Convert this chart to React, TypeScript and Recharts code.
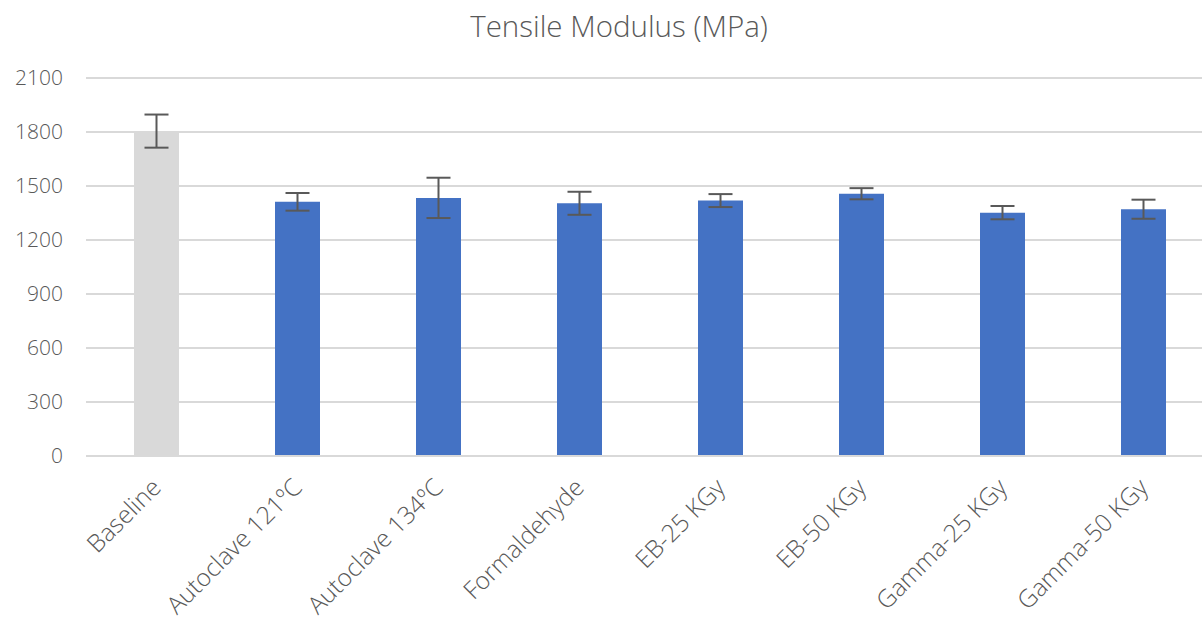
import React from "react";
import { BarChart, Bar, XAxis, YAxis, CartesianGrid, ErrorBar, Cell } from "recharts";

const categories = ["Baseline", "Autoclave 121ºC", "Autoclave 134ºC", "Formaldehyde", "EB-25 KGy", "EB-50 KGy", "Gamma-25 KGy", "Gamma-50 KGy"];
const modulus = [1805, 1412, 1434, 1404, 1419, 1457, 1352, 1371];
const stdDev = [92, 49, 112, 64, 36, 31, 37, 53];
const yTicks = [0, 300, 600, 900, 1200, 1500, 1800, 2100];

const data = categories.map((name, i) => ({ name, value: modulus[i], err: stdDev[i] }));

const FONT = "'Open Sans', sans-serif";
const TEXT = "#595959";

const XTick = (props: any) => {
  const { x, y, payload } = props;
  const ax = x + 6;
  const ay = y + 25;
  return (
    <text x={ax} y={ay} transform={`rotate(-45, ${ax}, ${ay})`} textAnchor="end" fill={TEXT} fontSize={24.5} fontFamily={FONT} fontWeight={300}>
      {payload.value}
    </text>
  );
};

export default function App() {
  return (
    <div style={{ position: "absolute", left: 0, top: 0, width: 1202, height: 622, background: "#fff", overflow: "hidden" }}>
      <div style={{ position: "absolute", left: 0, top: 5, width: 1238, textAlign: "center", fontFamily: FONT, fontWeight: 300, fontSize: 29.5, color: TEXT, whiteSpace: "nowrap" }}>
        Tensile Modulus (MPa)
      </div>
      <BarChart width={1216} height={622} data={data} margin={{ top: 78, right: 2, left: 0, bottom: 0 }} barCategoryGap={48}>
        <CartesianGrid vertical={false} stroke="#D9D9D9" strokeWidth={2} />
        <XAxis dataKey="name" interval={0} tickLine={false} axisLine={{ stroke: "#D9D9D9", strokeWidth: 2 }} tick={<XTick />} height={166} />
        <YAxis domain={[0, 2100]} ticks={yTicks} width={86} axisLine={false} tickLine={false} tickMargin={17} tick={{ fill: TEXT, fontSize: 21, fontFamily: FONT, fontWeight: 300 }} />
        <Bar dataKey="value" isAnimationActive={false} barSize={45}>
          {data.map((d, i) => (
            <Cell key={d.name} fill={i === 0 ? "#D9D9D9" : "#4472C4"} />
          ))}
          <ErrorBar dataKey="err" width={12} stroke="#595959" strokeWidth={2} />
        </Bar>
      </BarChart>
    </div>
  );
}
